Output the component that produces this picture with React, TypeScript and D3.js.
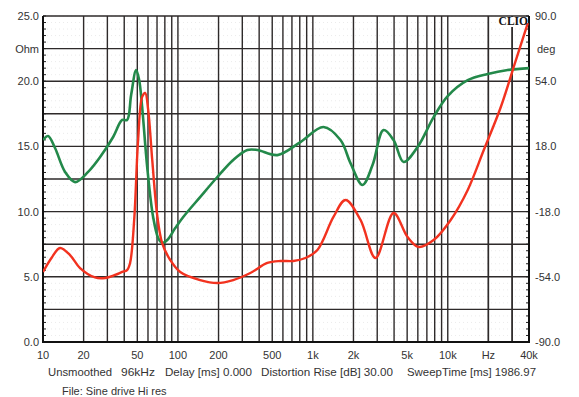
import React from "react";
import * as d3 from "d3";

const impFreq = [10, 11.66, 13.37, 15.86, 18.82, 24.3, 28.9, 34.2, 38.6, 42.0, 44.2, 47.4, 50.7, 54.3, 57.2, 60.2, 64.5, 70.2, 76.4, 87.7, 104, 146, 196, 257, 344, 460, 575, 718, 881, 1081, 1422, 1746, 2256, 2916, 3966, 5036, 6079, 7855, 10510, 14060, 18490, 24730, 31940, 39200];
const impOhm = [5.37, 6.5, 7.21, 6.67, 5.67, 4.95, 4.91, 5.14, 5.37, 5.52, 6.06, 9.36, 15.5, 18.8, 19.1, 17.8, 13.96, 9.74, 7.59, 6.29, 5.37, 4.75, 4.52, 4.75, 5.29, 6.06, 6.21, 6.21, 6.44, 7.06, 9.59, 10.89, 9.36, 6.44, 9.89, 8.05, 7.29, 7.82, 9.36, 11.66, 14.72, 18.02, 21.6, 24.46];

const phaseFreq = [10, 10.9, 12.28, 14.57, 17.28, 21.6, 26.5, 33.1, 38.6, 42.0, 45.0, 49.0, 51.6, 54.3, 59.2, 65.5, 71.4, 76.4, 83.3, 95.5, 109.5, 146, 196, 257, 327, 388, 546, 809, 1199, 1603, 1901, 2334, 2770, 3343, 3966, 4706, 5976, 7855, 9985, 14060, 19780, 27850, 41270];
const phaseDeg = [21.5, 23.7, 17.1, 3.9, -1.7, 3.9, 12.1, 23.2, 32.6, 32.6, 46.4, 60.2, 54.6, 39.7, 6.6, -21.0, -32.6, -35.3, -33.7, -27.1, -21.0, -10.0, 1.1, 10.5, 16.0, 16.0, 13.2, 20.4, 28.7, 21.5, 8.8, -3.3, 7.7, 27.0, 21.5, 9.4, 17.7, 34.2, 45.8, 54.6, 58.0, 60.2, 61.3];

const leftTicks = [0, 5, 10, 15, 20, 25];
const rightTicks = [-90, -54, -18, 18, 54, 90];
const xTickVals = [10, 20, 50, 100, 200, 500, 1000, 2000, 5000, 10000, 20000, 40000];
const xTickLabels = ["10", "20", "50", "100", "200", "500", "1k", "2k", "5k", "10k", "Hz", "40k"];
const infoTexts = ["Unsmoothed", "96kHz", "Delay [ms] 0.000", "Distortion Rise [dB] 30.00", "SweepTime [ms] 1986.97"];
const infoX = [48, 121, 165, 261, 407];
const infoLen = [64, 34, 87, 132, 129];

const W = 579, H = 397;
const L = 43, R = 529, T = 16, B = 342;

export default function App() {
  const x = d3.scaleLog().domain([10, 40000]).range([L, R]);
  const yL = d3.scaleLinear().domain([0, 25]).range([B, T]);
  const yR = d3.scaleLinear().domain([-90, 90]).range([B, T]);

  const vGrid: number[] = [];
  for (let dec = 10; dec <= 10000; dec *= 10) {
    for (let m = 1; m <= 9; m++) {
      const f = dec * m;
      if (f <= 40000) vGrid.push(f);
    }
  }
  vGrid.push(20000, 30000, 40000);
  const hGrid = d3.range(0, 25.01, 2.5);
  const minor = d3.range(0, 25.01, 0.5);

  const redLine = d3.line<number>().x((_, i) => x(impFreq[i])).y((d) => yL(d)).curve(d3.curveCatmullRom.alpha(0.5));
  const greenLine = d3.line<number>().x((_, i) => x(phaseFreq[i])).y((d) => yR(d)).curve(d3.curveCatmullRom.alpha(0.5));

  const font = "Liberation Sans, Arial, sans-serif";
  const tc = "#333";

  return (
    <svg width={W} height={H} style={{ position: "absolute", left: 0, top: 0, background: "#fff" }} fontFamily={font}>
      <defs>
        <clipPath id="plot">
          <rect x={L} y={T - 2} width={R - L} height={B - T + 2} />
        </clipPath>
      </defs>
      {minor.map((v, i) => (
        <line key={"mn" + i} x1={L} x2={R} y1={yL(v)} y2={yL(v)} stroke="#ddd" strokeWidth={0.6} strokeDasharray="1,3" />
      ))}
      {hGrid.map((v, i) => (
        <line key={"h" + i} x1={L} x2={R} y1={yL(v)} y2={yL(v)} stroke="#2e2a2a" strokeWidth={1.4} />
      ))}
      {vGrid.map((f, i) => (
        <line key={"v" + i} x1={x(f)} x2={x(f)} y1={T} y2={B} stroke="#2e2a2a" strokeWidth={1.4} />
      ))}
      {minor.map((v, i) => (
        <g key={"tk" + i}>
          <line x1={L} x2={L + 3} y1={yL(v)} y2={yL(v)} stroke="#222" strokeWidth={1} />
          <line x1={R - 3} x2={R} y1={yL(v)} y2={yL(v)} stroke="#222" strokeWidth={1} />
        </g>
      ))}
      <line x1={L} x2={L} y1={T} y2={B + 1} stroke="#111" strokeWidth={2} />
      <line x1={R} x2={R} y1={T} y2={B + 1} stroke="#111" strokeWidth={2} />
      <line x1={L - 1} x2={R + 1} y1={B} y2={B} stroke="#111" strokeWidth={2} />
      <rect x={500} y={17} width={28} height={10} fill="#fff" />
      <g clipPath="url(#plot)">
        <path d={greenLine(phaseDeg) || ""} fill="none" stroke="#23894a" strokeWidth={2.6} strokeLinejoin="round" />
        <path d={redLine(impOhm) || ""} fill="none" stroke="#f2321f" strokeWidth={2.4} strokeLinejoin="round" />
      </g>
      <text x={528} y={25} textAnchor="end" fontFamily="Liberation Serif, Times New Roman, serif" fontWeight="bold" fontSize={11.5} fill="#111">CLIO</text>
      {leftTicks.map((v, i) => (
        <text key={"lt" + i} x={39} y={yL(v) + 4} textAnchor="end" fontSize={11} fill={tc}>{v.toFixed(1)}</text>
      ))}
      <text x={39} y={yL(22.5) + 4} textAnchor="end" fontSize={11} fill={tc}>Ohm</text>
      {rightTicks.map((v, i) => (
        <text key={"rt" + i} x={535} y={yR(v) + 4} textAnchor="start" fontSize={11} fill={tc}>{v.toFixed(1)}</text>
      ))}
      <text x={537} y={yL(22.5) + 4} textAnchor="start" fontSize={11} fill={tc}>deg</text>
      {xTickVals.map((f, i) => (
        <text key={"xt" + i} x={x(f)} y={359} textAnchor="middle" fontSize={11} fill={tc}>{xTickLabels[i]}</text>
      ))}
      {infoTexts.map((t, i) => (
        <text key={"in" + i} x={infoX[i]} y={376} fontSize={11} fill={tc} textLength={infoLen[i]} lengthAdjust="spacingAndGlyphs">{t}</text>
      ))}
      <text x={62} y={395} fontSize={11} fill={tc}>File: Sine drive Hi res</text>
    </svg>
  );
}
